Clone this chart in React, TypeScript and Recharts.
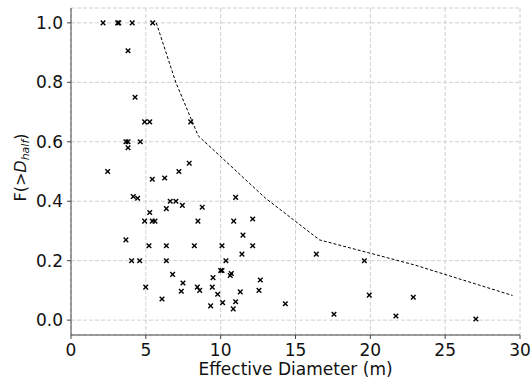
import React from 'react';
import {
  ScatterChart,
  Scatter,
  XAxis,
  YAxis,
  CartesianGrid,
} from 'recharts';

// measured points (effective diameter, F(>D_half))
const diameters = [
  2.14, 3.12, 3.19, 4.09, 5.46, 3.81, 4.28, 4.92, 5.26, 8.0,
  3.67, 3.81, 4.63, 3.81, 2.45, 7.9, 7.21, 5.43, 6.26, 4.16,
  4.45, 6.63, 7.01, 7.44, 8.77, 6.37, 5.26, 4.92, 5.43, 5.61,
  8.48, 3.67, 5.21, 6.37, 8.24, 10.09, 4.05, 4.59, 6.37, 10.35,
  10.0, 10.09, 9.49, 10.64, 10.71, 6.79, 7.48, 7.37, 4.99, 8.44,
  8.6, 9.44, 9.8, 6.08, 9.33, 10.13, 11.0, 10.87, 12.14, 11.49,
  12.14, 11.42, 16.39, 19.6, 12.65, 11.31, 12.56, 11.0, 10.84, 14.32,
  19.93, 22.87, 17.57, 21.71, 27.05,
];
const fractions = [
  1.0, 1.0, 1.0, 1.0, 1.0, 0.906, 0.75, 0.667, 0.667, 0.667,
  0.6, 0.6, 0.6, 0.58, 0.5, 0.528, 0.5, 0.474, 0.478, 0.416,
  0.41, 0.4, 0.4, 0.386, 0.38, 0.375, 0.362, 0.333, 0.333, 0.333,
  0.333, 0.27, 0.25, 0.25, 0.25, 0.25, 0.2, 0.2, 0.2, 0.2,
  0.167, 0.167, 0.143, 0.15, 0.157, 0.154, 0.125, 0.097, 0.111, 0.111,
  0.1, 0.111, 0.087, 0.071, 0.048, 0.059, 0.413, 0.333, 0.34, 0.286,
  0.25, 0.222, 0.222, 0.2, 0.135, 0.095, 0.1, 0.062, 0.038, 0.055,
  0.084, 0.077, 0.02, 0.014, 0.004,
];

// dashed envelope curve
const curveX = [5.7, 7.0, 8.5, 13.0, 16.6, 20.0, 23.0, 29.5];
const curveY = [1.0, 0.8, 0.62, 0.41, 0.27, 0.225, 0.185, 0.083];

const xTicks = [0, 5, 10, 15, 20, 25, 30];
const yTicks = [0, 0.2, 0.4, 0.6, 0.8, 1.0];

const font = 'DejaVu Sans, sans-serif';

const Cross = (props: any) => {
  const { cx, cy } = props;
  const s = 2.3;
  return (
    <g stroke="#000" strokeWidth={1.4}>
      <line x1={cx - s} y1={cy - s} x2={cx + s} y2={cy + s} />
      <line x1={cx - s} y1={cy + s} x2={cx + s} y2={cy - s} />
    </g>
  );
};

const YLabel = (props: any) => {
  const vb = props.viewBox;
  const cx = 26;
  const cy = vb.y + vb.height / 2 - 4;
  return (
    <text
      x={cx}
      y={cy}
      transform={`rotate(-90, ${cx}, ${cy})`}
      textAnchor="middle"
      fontFamily={font}
      fontSize={16}
      fill="#111"
    >
      F(&gt;<tspan fontStyle="italic">D</tspan>
      <tspan fontStyle="italic" fontSize={11} dy={3}>half</tspan>
      <tspan dy={-3}>)</tspan>
    </text>
  );
};

export default function App() {
  const points = diameters.map((d, i) => ({ x: d, y: fractions[i] }));
  const curve = curveX.map((d, i) => ({ x: d, y: curveY[i] }));

  return (
    <div style={{ position: 'absolute', left: 0, top: 0, background: '#fff' }}>
      <ScatterChart
        width={531}
        height={379}
        margin={{ top: 8, right: 11, bottom: 0, left: 0 }}
      >
        <CartesianGrid stroke="#d0d0d0" strokeDasharray="4 2" />
        <XAxis
          type="number"
          dataKey="x"
          domain={[0, 30]}
          ticks={xTicks}
          height={44}
          stroke="#444"
          tickSize={4}
          tickMargin={5}
          tick={{ fontSize: 17, fill: '#111', fontFamily: font }}
          label={{
            value: 'Effective Diameter (m)',
            position: 'insideBottom',
            offset: 4,
            style: { fontSize: 17, fill: '#111', fontFamily: font },
          }}
        />
        <YAxis
          type="number"
          dataKey="y"
          domain={[-0.05, 1.05]}
          ticks={yTicks}
          width={71}
          stroke="#444"
          tickSize={4}
          tickMargin={4}
          tickFormatter={(v: number) => v.toFixed(1)}
          tick={{ fontSize: 17, fill: '#111', fontFamily: font }}
          label={<YLabel />}
        />
        <XAxis
          xAxisId="top"
          orientation="top"
          type="number"
          dataKey="x"
          domain={[0, 30]}
          height={0}
          tick={false}
          tickLine={false}
          stroke="#444"
        />
        <YAxis
          yAxisId="right"
          orientation="right"
          type="number"
          dataKey="y"
          domain={[-0.05, 1.05]}
          width={0}
          tick={false}
          tickLine={false}
          stroke="#444"
        />
        <Scatter
          data={curve}
          line={{ stroke: '#000', strokeWidth: 1, strokeDasharray: '3 2' }}
          lineType="joint"
          shape={() => <g />}
          isAnimationActive={false}
        />
        <Scatter data={points} shape={<Cross />} isAnimationActive={false} />
      </ScatterChart>
    </div>
  );
}
